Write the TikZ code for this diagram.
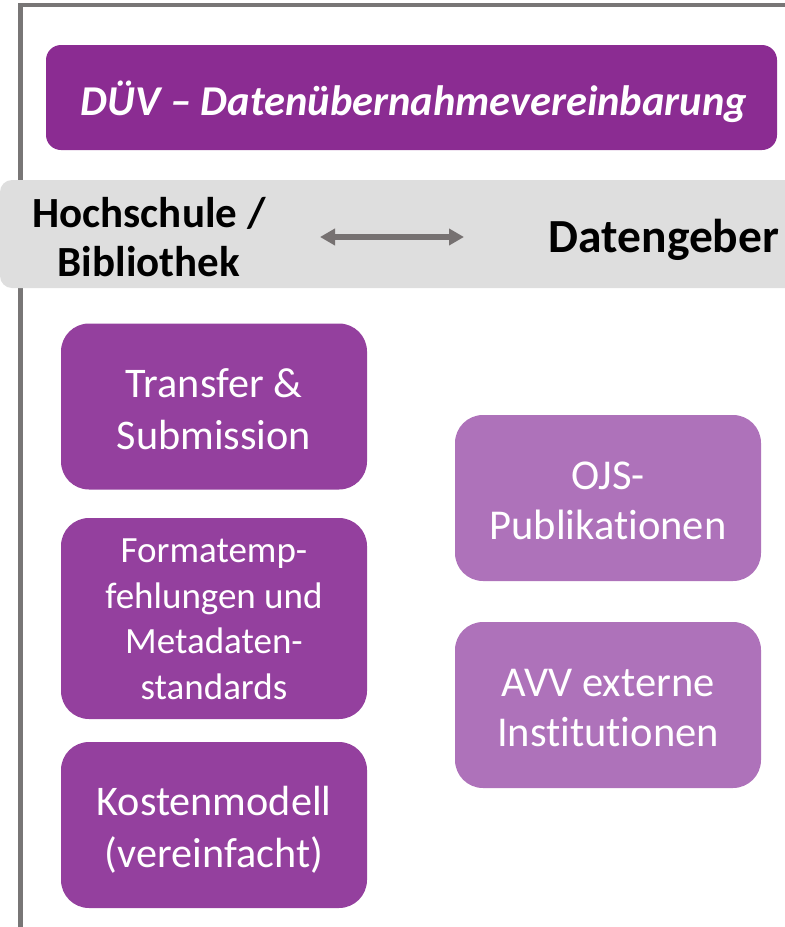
\documentclass[tikz,border=0pt]{standalone}
\usepackage{fontspec}
\setmainfont{Carlito}[Ligatures=NoCommon]
\usetikzlibrary{arrows.meta}

% keeps "t" and "i" as separate glyphs
\newcommand\ligbreak{\kern0pt{}}

\definecolor{duvpurple}{RGB}{139,44,146}
\definecolor{hspurple}{RGB}{148,64,158}
\definecolor{dgpurple}{RGB}{174,114,186}
\definecolor{bandgray}{RGB}{222,222,222}
\definecolor{framegray}{RGB}{120,118,118}
\definecolor{arrowgray}{RGB}{118,113,113}

\tikzset{
  frame/.style={draw=framegray, line width=4.3pt},
  titlebox/.style={fill=duvpurple, rounded corners=15pt,
    minimum width=731pt, minimum height=105pt, inner sep=0pt},
  titletext/.style={text=white, inner sep=0pt,
    font=\fontsize{42.5}{50}\selectfont\bfseries\itshape},
  band/.style={fill=bandgray, rounded corners=12pt},
  bandlabel/.style={text=black, align=center, inner sep=0pt, font=\bfseries},
  leftbox/.style={fill=hspurple, rounded corners=28pt, text=white, align=center,
    minimum width=306pt, inner sep=0pt},
  rightbox/.style={fill=dgpurple, rounded corners=28pt, text=white, align=center,
    minimum width=306pt, minimum height=166pt, inner sep=0pt,
    font=\fontsize{42.5}{50}\selectfont},
  bigtext/.style={font=\fontsize{42.2}{52}\selectfont},
  twoway/.style={draw=arrowgray, line width=6pt,
    {Triangle[width=16pt,length=15pt]}-{Triangle[width=16pt,length=15pt]}},
}

\begin{document}
\begin{tikzpicture}[x=1pt, y=-1pt]
  \useasboundingbox (0,0) rectangle (785,927);

  % outer frame: left and top edges
  \draw[frame] (20.5,930) -- (20.5,5) -- (790,5);

  % title
  \node[titlebox] (duv) at (411.5,97.5) {};
  \node[titletext] (duvtitle) at (414,102) {DÜV – Datenübernahmevereinbarung};

  % grey band with the two parties
  \fill[band] (0,180) rectangle (820,288);
  \node[bandlabel, font=\fontsize{43}{49}\selectfont\bfseries] (hs) at (149,237)
    {Hochschule /\\Bibliothek};
  \node[bandlabel, font=\fontsize{47.5}{52}\selectfont\bfseries] (dg) at (664,239.5)
    {Datengeber};
  \coordinate (al) at (320,237);
  \coordinate (ar) at (464,237);
  \draw[twoway] (al) -- (ar);

  % university / library side
  \node[leftbox, minimum height=166pt] (transfer) at (214,406.5) {};
  \node[text=white, align=center, bigtext] (transfertext) at (214,409)
    {Transfer \&\\Submission};
  \node[leftbox, minimum height=201pt] (formate) at (214,618.5) {};
  \node[text=white, align=center, font=\fontsize{37}{45.5}\selectfont] (formatetext) at (214,619.5)
    {Formatemp-\\fehlungen und\\Metadaten-\\standards};
  \node[leftbox, minimum height=166pt] (kosten) at (214,825) {};
  \node[text=white, align=center, bigtext] (kostentext) at (214,829.5)
    {Kostenmodell\\(vereinfacht)};

  % data provider side
  \node[rightbox] (ojs) at (608,498) {};
  \node[text=white, align=center, font=\fontsize{42.5}{50}\selectfont] (ojstext) at (608,501)
    {OJS-\\Publikat\ligbreak ionen};
  \node[rightbox] (avv) at (608,705) {};
  \node[text=white, align=center, font=\fontsize{42.5}{50}\selectfont] (avvtext) at (608,708)
    {AVV externe\\Inst\ligbreak itut\ligbreak ionen};
\end{tikzpicture}
\end{document}
